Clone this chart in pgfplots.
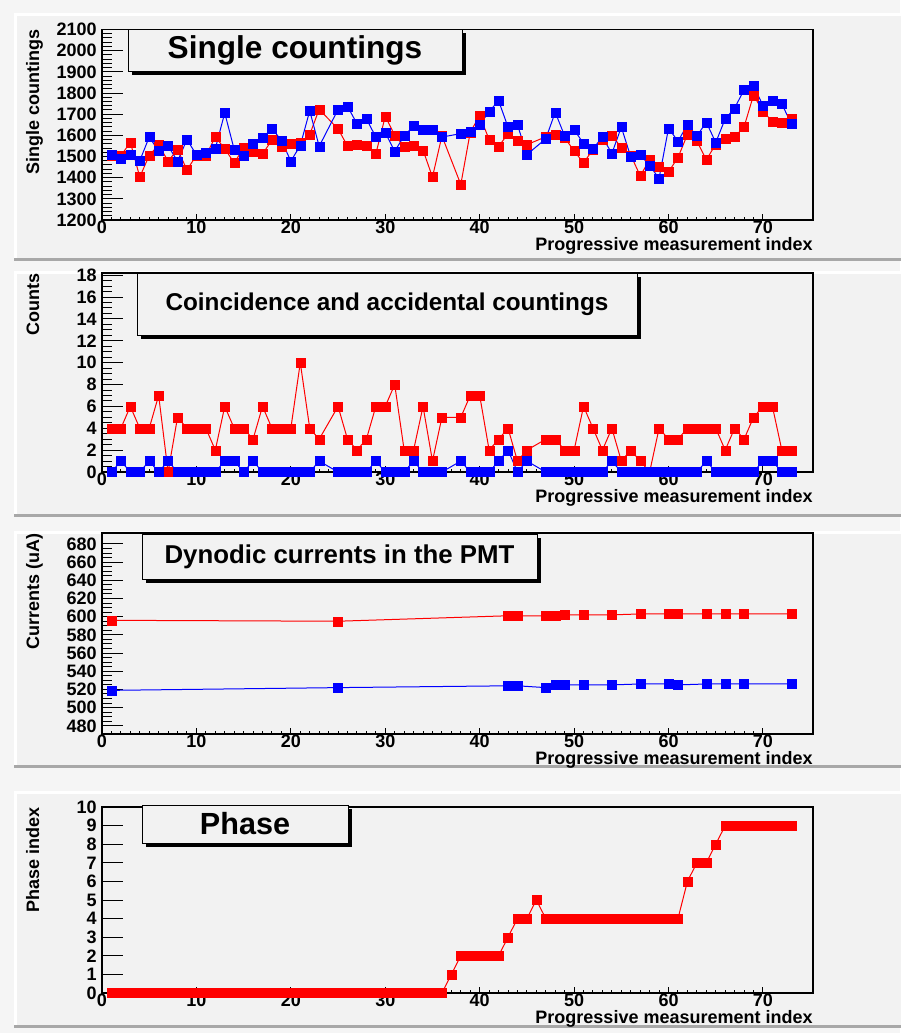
\documentclass[border=0pt]{standalone}
\usepackage{fontspec}
\setmainfont{Liberation Sans}
\usepackage{pgfplots}
\pgfplotsset{compat=1.18}

\definecolor{canvasbg}{HTML}{F5F5F5}
\definecolor{padbg}{HTML}{F2F2F2}
\definecolor{padshade}{HTML}{A8A8A8}

% ROOT-like pad axis
\pgfplotsset{rootax/.style={
  scale only axis, width=355.5pt, anchor=north west,
  xmin=0, xmax=75.3,
  clip=false,
  axis line style={line width=0.6pt},
  tick align=inside, tick pos=left,
  xtick={0,10,...,70}, minor x tick num=9,
  tick style={black, line width=0.5pt},
  major tick length=10.5pt, minor tick length=5pt,
  every x tick/.append style={/pgfplots/major tick length=3pt, /pgfplots/minor tick length=1.5pt},
  font=\bfseries\fontsize{9}{10}\selectfont,
  tick label style={font=\bfseries\fontsize{9}{10}\selectfont},
  /pgf/number format/assume math mode=true,
  /pgf/number format/1000 sep={},
  xticklabel style={inner sep=0pt, yshift=-0.5pt},
  yticklabel style={inner sep=0pt, xshift=-2.5pt},
  xlabel={Progressive measurement index},
  xlabel style={at={(axis description cs:1,0)}, anchor=base east, yshift=-15pt, inner sep=0pt},
  ylabel style={at={(axis description cs:-0.0886,1)}, anchor=base east, inner sep=0pt},
  every axis plot/.append style={line width=0.5pt, mark=square*, mark size=2.25pt, mark options={line width=0.1pt}},
}}

\newcommand{\pad}[2]{% top, bottom (pt, negative)
  \fill[padbg] (7pt,#1) rectangle (452pt,#2);
  \draw[white, line width=1.5pt] (7.75pt,#2) -- (7.75pt,#1+ -0.75pt) -- (452pt,#1+ -0.75pt);
  \draw[padshade, line width=1.5pt] (7pt,#2+0.75pt) -- (452pt,#2+0.75pt);
}
\newcommand{\titlebox}[6]{% x1,y1,x2,y2,size,text
  \fill[black] (#1+2pt,#2-1.75pt) rectangle (#3+2pt,#4-1.75pt);
  \filldraw[fill=padbg, draw=black, line width=0.5pt] (#1,#2) rectangle (#3,#4);
  \node[font=\bfseries\fontsize{#5}{#5}\selectfont, inner sep=0pt] at ($0.5*(#1,#2)+0.5*(#3,#4)$) {#6};
}
\usetikzlibrary{calc}

\begin{document}
\begin{tikzpicture}
\fill[canvasbg] (0,0) rectangle (450pt,-516.5pt);
\pad{-6.5pt}{-130.5pt}
\pad{-135.5pt}{-258.5pt}
\pad{-265.5pt}{-384pt}
\pad{-395.5pt}{-514pt}

% ---------- Single countings
\begin{axis}[rootax, at={(51pt,-14.75pt)}, height=95.25pt,
  ymin=1200, ymax=2100, ytick={1200,1300,...,2100}, minor y tick num=4,
  ylabel={Single countings}]
\addplot[red] coordinates {
 (1,1505)(2,1503)(3,1568)(4,1403)(5,1505)(6,1555)(7,1478)(8,1533)(9,1437)(10,1505)
 (11,1503)(12,1593)(13,1537)(14,1470)(15,1540)(16,1522)(17,1512)(18,1578)(19,1548)(20,1562)
 (21,1566)(22,1604)(23,1723)(25,1630)(26,1550)(27,1557)(28,1553)(29,1512)(30,1690)
 (31,1600)(32,1548)(33,1553)(34,1530)(35,1403)(36,1597)(38,1368)(39,1615)(40,1693)
 (41,1580)(42,1547)(43,1608)(44,1573)(45,1556)(47,1593)(48,1604)(49,1588)(50,1527)
 (51,1469)(52,1534)(53,1580)(54,1600)(55,1542)(56,1506)(57,1409)(58,1484)(59,1453)(60,1428)
 (61,1495)(62,1604)(63,1573)(64,1484)(65,1558)(66,1584)(67,1593)(68,1640)(69,1790)(70,1713)
 (71,1666)(72,1658)(73,1677)};
\addplot[blue] coordinates {
 (1,1509)(2,1491)(3,1509)(4,1480)(5,1592)(6,1526)(7,1550)(8,1478)(9,1580)(10,1508)
 (11,1517)(12,1537)(13,1706)(14,1533)(15,1505)(16,1561)(17,1591)(18,1631)(19,1577)(20,1478)
 (21,1552)(22,1716)(23,1548)(25,1722)(26,1737)(27,1655)(28,1678)(29,1592)(30,1612)
 (31,1525)(32,1597)(33,1644)(34,1627)(35,1627)(36,1592)(38,1608)(39,1619)(40,1650)
 (41,1712)(42,1764)(43,1639)(44,1650)(45,1509)(47,1584)(48,1709)(49,1597)(50,1627)
 (51,1561)(52,1537)(53,1592)(54,1514)(55,1639)(56,1498)(57,1509)(58,1456)(59,1397)(60,1634)
 (61,1572)(62,1650)(63,1597)(64,1662)(65,1566)(66,1678)(67,1728)(68,1816)(69,1834)(70,1741)
 (71,1764)(72,1748)(73,1655)};
\end{axis}

% ---------- Coincidence
\begin{axis}[rootax, at={(51pt,-136.5pt)}, height=99.5pt,
  ymin=0, ymax=18.2, ytick={0,2,...,18}, minor y tick num=3,
  ylabel={Counts}]
\addplot[red] coordinates {
 (1,4)(2,4)(3,6)(4,4)(5,4)(6,7)(7,0)(8,5)(9,4)(10,4)(11,4)(12,2)(13,6)(14,4)(15,4)
 (16,3)(17,6)(18,4)(19,4)(20,4)(21,10)(22,4)(23,3)(25,6)(26,3)(27,2)(28,3)(29,6)(30,6)
 (31,8)(32,2)(33,2)(34,6)(35,1)(36,5)(38,5)(39,7)(40,7)(41,2)(42,3)(43,4)(44,1)(45,2)
 (47,3)(48,3)(49,2)(50,2)(51,6)(52,4)(53,2)(54,4)(55,1)(56,2)(57,1)(58,0)(59,4)(60,3)
 (61,3)(62,4)(63,4)(64,4)(65,4)(66,2)(67,4)(68,3)(69,5)(70,6)(71,6)(72,2)(73,2)};
\addplot[blue] coordinates {
 (1,0)(2,1)(3,0)(4,0)(5,1)(6,0)(7,1)(8,0)(9,0)(10,0)(11,0)(12,0)(13,1)(14,1)(15,0)
 (16,1)(17,0)(18,0)(19,0)(20,0)(21,0)(22,0)(23,1)(25,0)(26,0)(27,0)(28,0)(29,1)(30,0)
 (31,0)(32,0)(33,1)(34,0)(35,0)(36,0)(38,1)(39,0)(40,0)(41,0)(42,1)(43,2)(44,0)(45,1)
 (47,0)(48,0)(49,0)(50,0)(51,0)(52,0)(53,0)(54,1)(55,0)(56,0)(57,0)(58,0)(59,0)(60,0)
 (61,0)(62,0)(63,0)(64,1)(65,0)(66,0)(67,0)(68,0)(69,0)(70,1)(71,1)(72,0)(73,0)};
\end{axis}

% ---------- Dynodic currents
\begin{axis}[rootax, at={(51pt,-266.5pt)}, height=100.5pt,
  ymin=471, ymax=692, ytick={480,500,...,680}, minor y tick num=3,
  ylabel={Currents (uA)}]
\addplot[red] coordinates {
 (1,596)(25,595)(43,601)(44,601)(47,601)(48,601)(49,602)(51,602)(54,602)(57,603)
 (60,603)(61,603)(64,603)(66,603)(68,603)(73,603)};
\addplot[blue] coordinates {
 (1,519)(25,522)(43,524)(44,524)(47,522)(48,525)(49,525)(51,525)(54,525)(57,526)
 (60,526)(61,525)(64,526)(66,526)(68,526)(73,526)};
\end{axis}

% ---------- Phase
\begin{axis}[rootax, at={(51pt,-403.5pt)}, height=93pt,
  ymin=0, ymax=10, ytick={0,1,...,10}, minor y tick num=0,
  ylabel={Phase index}]
\addplot[red] coordinates {
 (1,0)(2,0)(3,0)(4,0)(5,0)(6,0)(7,0)(8,0)(9,0)(10,0)(11,0)(12,0)(13,0)(14,0)(15,0)
 (16,0)(17,0)(18,0)(19,0)(20,0)(21,0)(22,0)(23,0)(24,0)(25,0)(26,0)(27,0)(28,0)(29,0)(30,0)
 (31,0)(32,0)(33,0)(34,0)(35,0)(36,0)(37,1)(38,2)(39,2)(40,2)(41,2)(42,2)(43,3)(44,4)(45,4)
 (46,5)(47,4)(48,4)(49,4)(50,4)(51,4)(52,4)(53,4)(54,4)(55,4)(56,4)(57,4)(58,4)(59,4)(60,4)
 (61,4)(62,6)(63,7)(64,7)(65,8)(66,9)(67,9)(68,9)(69,9)(70,9)(71,9)(72,9)(73,9)};
\end{axis}

\titlebox{64pt}{-14.5pt}{231pt}{-35.5pt}{15.8}{Single countings}
\titlebox{68.5pt}{-136.5pt}{318.5pt}{-167.5pt}{12.15}{Coincidence and accidental countings}
\titlebox{71pt}{-267pt}{268.5pt}{-289.5pt}{12.9}{Dynodic currents in the PMT}
\titlebox{71pt}{-402.5pt}{174pt}{-421.5pt}{15.3}{Phase}

\pgfresetboundingbox
\path[use as bounding box] (0,0) rectangle (450pt,-516.5pt);
\end{tikzpicture}
\end{document}
